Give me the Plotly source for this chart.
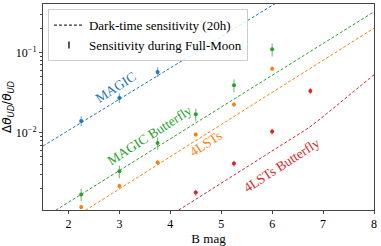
import math
import plotly.graph_objects as go

# Dark-time sensitivity curves
line_x = [1.5, 2.0, 2.5, 3.0, 3.5, 4.0, 4.5, 5.0, 5.5, 6.0, 6.5, 7.0, 7.5, 8.0]
magic_line = [0.0068, 0.0106, 0.0166, 0.026, 0.0407, 0.0638, 0.1, 0.157, 0.245, 0.385, 0.60, None, None, None]
magic_bf_line = [0.00086, 0.00136, 0.00214, 0.00338, 0.00532, 0.00839, 0.0132, 0.0208, 0.0328, 0.0518, 0.0815, 0.1285, 0.202, 0.32]
lst_line = [None, 0.00079, 0.00126, 0.0020, 0.00317, 0.00502, 0.00796, 0.0126, 0.0200, 0.0317, 0.0502, 0.0796, 0.126, 0.200]
lst_bf_x = [4.0, 4.5, 5.0, 5.5, 6.0, 6.5, 6.72, 7.0, 7.5, 8.0]
lst_bf_line = [0.00093, 0.00147, 0.00233, 0.0037, 0.00586, 0.00929, 0.0115, 0.0158, 0.0288, 0.0525]

# Full-Moon sensitivity points
magic_x = [2.25, 3.0, 3.75, 4.5]
magic_y = [0.014, 0.027, 0.057, 0.109]
magic_err = [0.002, 0.0037, 0.008, 0.016]

magic_bf_x = [2.25, 3.0, 3.75, 4.5, 5.25, 6.0]
magic_bf_y = [0.0017, 0.0033, 0.0074, 0.0169, 0.0389, 0.109]
magic_bf_err = [0.0003, 0.0006, 0.0013, 0.003, 0.007, 0.02]

lst_x = [2.25, 3.0, 3.75, 4.5, 5.25, 6.0]
lst_y = [0.00118, 0.00217, 0.00424, 0.00946, 0.0224, 0.0624]
lst_err = [0.00007, 0.00013, 0.00025, 0.0006, 0.0014, 0.004]

lst_bf_px = [4.5, 5.25, 6.0, 6.75]
lst_bf_py = [0.00179, 0.00411, 0.0103, 0.033]
lst_bf_err = [0.00015, 0.00035, 0.0009, 0.003]

series = [
    ("MAGIC", "#1f77b4", "rgba(31,119,180,0.6)", line_x, magic_line, magic_x, magic_y, magic_err),
    ("MAGIC Butterfly", "#2ca02c", "rgba(44,160,44,0.6)", line_x, magic_bf_line, magic_bf_x, magic_bf_y, magic_bf_err),
    ("4LSTs", "#ff7f0e", "rgba(255,127,14,0.6)", line_x, lst_line, lst_x, lst_y, lst_err),
    ("4LSTs Butterfly", "#d62728", "rgba(214,39,40,0.6)", lst_bf_x, lst_bf_line, lst_bf_px, lst_bf_py, lst_bf_err),
]

# label positions
label_x = [2.92, 3.59, 4.7, 6.18]
label_y = [0.0368, 0.0092, 0.0074, 0.0039]

fig = go.Figure()
for name, col, ecol, lx, ly, px, py, pe in series:
    fig.add_trace(go.Scatter(x=lx, y=ly, mode="lines", line=dict(color=col, width=1, dash="3px,2px"),
                             showlegend=False, connectgaps=False))
    fig.add_trace(go.Scatter(x=px, y=py, mode="markers", marker=dict(color=col, size=4),
                             error_y=dict(type="data", array=pe, color=ecol, thickness=1.2, width=0),
                             showlegend=False))

fig.add_trace(go.Scatter(x=[None], y=[None], mode="lines", name="Dark-time sensitivity (20h)",
                         line=dict(color="black", width=1, dash="3px,2px")))
fig.add_trace(go.Scatter(x=[None], y=[None], mode="markers", name="Sensitivity during Full-Moon",
                         marker=dict(color="black", size=5, symbol="line-ns-open", line=dict(width=1.3, color="black"))))

for (name, col, *_), tx, ty in zip(series, label_x, label_y):
    fig.add_annotation(x=tx, y=math.log10(ty), text=name, showarrow=False, textangle=-33,
                       font=dict(family="Liberation Serif", size=13.5, color=col))

serif = dict(family="Liberation Serif", size=12, color="black")
fig.update_layout(
    width=381, height=246,
    margin=dict(l=40, r=7, t=3, b=30),
    paper_bgcolor="white", plot_bgcolor="white",
    font=serif,
    legend=dict(x=0.015, y=0.975, xanchor="left", yanchor="top",
                bgcolor="rgba(255,255,255,0.8)", bordercolor="#cccccc", borderwidth=1,
                font=dict(family="Liberation Serif", size=13, color="black"),
                tracegroupgap=0, itemwidth=30),
    xaxis=dict(range=[1.5, 8], tickvals=[2, 3, 4, 5, 6, 7, 8], showgrid=False, zeroline=False,
               showline=True, linecolor="#444", linewidth=1, mirror=True,
               ticks="outside", ticklen=3, tickcolor="#444", tickfont=serif,
               title=dict(text="B mag", font=dict(family="Liberation Serif", size=13), standoff=2)),
    yaxis=dict(type="log", range=[-2.964, -0.398], tickvals=[0.01, 0.1],
               ticktext=["10<sup>−2</sup>", "10<sup>−1</sup>"], showgrid=False, zeroline=False,
               showline=True, linecolor="#444", linewidth=1, mirror=True,
               ticks="outside", ticklen=3, tickcolor="#444", tickfont=serif,
               minor=dict(tickvals=[0.002, 0.003, 0.004, 0.005, 0.006, 0.007, 0.008, 0.009,
                                    0.02, 0.03, 0.04, 0.05, 0.06, 0.07, 0.08, 0.09, 0.2, 0.3],
                          ticks="outside", ticklen=2, tickcolor="#444", showgrid=False),
               title=dict(text="Δ<i>θ</i><sub><i>UD</i></sub>/<i>θ</i><sub><i>UD</i></sub>",
                          font=dict(family="DejaVu Sans", size=12), standoff=4)),
)

fig.write_html("out.html", config={"displayModeBar": False},
               post_script="document.body.style.margin='0';")
